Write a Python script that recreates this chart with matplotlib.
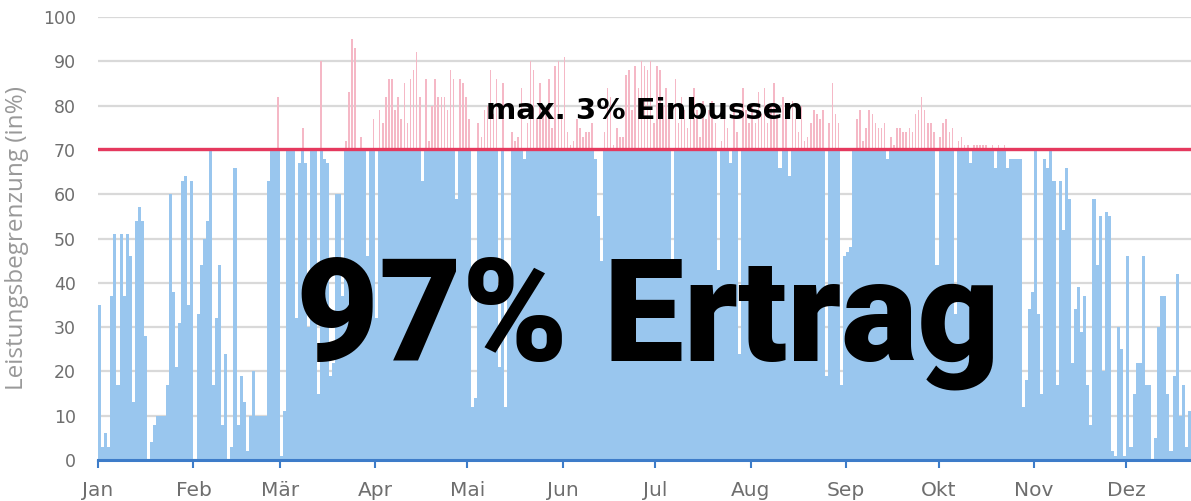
import matplotlib
matplotlib.use("Agg")
import matplotlib.pyplot as plt
import numpy as np

# daily limitation values (in %); values above 70 are the clipped part
jan = [35, 3, 6, 3, 37, 51, 17, 51, 37, 51, 46, 13, 54, 57, 54, 28, 0, 4, 8, 10, 10, 10, 17, 60, 38, 21, 31, 63, 64, 35, 63]
feb = [0, 33, 44, 50, 54, 70, 17, 32, 44, 8, 24, 0, 3, 66, 8, 19, 13, 2, 10, 20, 10, 10, 10, 10, 63, 70, 70, 82]
mar = [1, 11, 70, 70, 70, 32, 67, 75, 67, 30, 70, 70, 15, 90, 68, 67, 19, 22, 60, 60, 37, 72, 83, 95, 93, 70, 73, 70, 46, 70, 77]
apr = [32, 79, 76, 82, 86, 86, 79, 82, 77, 85, 76, 86, 88, 92, 82, 63, 86, 72, 80, 86, 82, 82, 82, 79, 88, 86, 59, 86, 85, 82]
mai = [77, 12, 14, 76, 73, 79, 80, 88, 78, 86, 21, 85, 12, 38, 74, 72, 73, 84, 68, 76, 90, 88, 77, 85, 78, 78, 86, 75, 89, 90, 78]
jun = [91, 74, 71, 72, 77, 75, 73, 74, 74, 76, 68, 55, 45, 74, 84, 82, 71, 75, 73, 73, 87, 88, 79, 89, 84, 90, 89, 88, 90, 76]
jul = [89, 88, 80, 84, 77, 41, 86, 76, 82, 79, 75, 78, 84, 79, 73, 81, 77, 79, 81, 76, 43, 72, 79, 75, 67, 80, 74, 24, 84, 79, 76]
aug = [80, 76, 83, 78, 84, 76, 80, 85, 78, 66, 82, 79, 64, 81, 77, 74, 80, 72, 73, 76, 79, 78, 77, 79, 19, 76, 85, 78, 76, 17, 46]
sep = [47, 48, 70, 77, 79, 72, 75, 79, 78, 76, 75, 75, 76, 68, 73, 71, 75, 75, 74, 74, 75, 74, 78, 79, 82, 79, 76, 76, 74, 44]
okt = [73, 76, 77, 74, 75, 33, 72, 73, 71, 71, 67, 71, 71, 71, 71, 71, 70, 71, 66, 71, 70, 71, 66, 68, 68, 68, 68, 12, 18, 34, 38]
nov = [70, 33, 15, 68, 66, 70, 63, 17, 63, 52, 66, 59, 22, 34, 39, 29, 37, 17, 8, 59, 44, 55, 20, 56, 55, 2, 1, 30, 25, 1]
dez = [46, 3, 15, 22, 22, 46, 17, 17, 0, 5, 30, 37, 37, 15, 2, 19, 42, 10, 17, 3, 11]

month_labels = ["Jan", "Feb", "Mär", "Apr", "Mai", "Jun", "Jul", "Aug", "Sep", "Okt", "Nov", "Dez"]
month_lengths = [31, 28, 31, 30, 31, 30, 31, 31, 30, 31, 30, 31]
limit = 70
y_ticks = list(range(0, 101, 10))

values = np.array(jan + feb + mar + apr + mai + jun + jul + aug + sep + okt + nov + dez, dtype=float)
days = np.arange(len(values))
month_starts = np.concatenate([[0], np.cumsum(month_lengths)[:-1]])

blue = "#99C6EE"
pink = "#F5B8C6"
red = "#E5395E"
axis_blue = "#3D7CC9"
grey_text = "#6E6E6E"

fig = plt.figure(figsize=(11.91, 5.01), dpi=100)
ax = fig.add_axes([98 / 1191, 1 - 460 / 501, 1 - 98 / 1191, (460 - 17) / 501])

ax.set_axisbelow(True)
ax.grid(axis="y", color="#D9D9D9", linewidth=1.6)

capped = np.minimum(values, limit)
excess = np.clip(values - limit, 0, None)
ax.bar(days, capped, width=1.0, align="edge", color=blue, linewidth=0)
ax.bar(days + 0.5, excess, bottom=limit, width=0.5, align="center", color=pink, linewidth=0)

ax.axhline(70.3, color=red, linewidth=2.4, zorder=5)

ax.set_xlim(0, len(values))
ax.set_ylim(0, 100)
ax.set_yticks(y_ticks)
ax.set_xticks(month_starts)
ax.set_xticklabels(month_labels)

for s in ["top", "right", "left"]:
    ax.spines[s].set_visible(False)
ax.spines["bottom"].set_color(axis_blue)
ax.spines["bottom"].set_linewidth(2.2)
ax.spines["bottom"].set_zorder(6)
ax.tick_params(axis="x", colors=axis_blue, length=6, width=1.5, labelcolor=grey_text, labelsize=14.5, pad=9)
ax.tick_params(axis="y", length=0, labelcolor=grey_text, labelsize=12.5, pad=16)

ax.set_ylabel("Leistungsbegrenzung (in%)", color="#999999", fontsize=17.5,
              family=["Open Sans", "DejaVu Sans"], labelpad=10)

ax.text(0.5, 0.77, "max. 3% Einbussen", transform=ax.transAxes, ha="center", va="baseline",
        fontsize=21, fontweight="bold", color="black", zorder=7)
ax.text(0.503, 0.2257, "97% Ertrag", transform=ax.transAxes, ha="center", va="baseline",
        fontsize=103, fontweight="black", family=["Roboto", "DejaVu Sans"], color="black", zorder=7)

fig.savefig("out.png", dpi=100)
